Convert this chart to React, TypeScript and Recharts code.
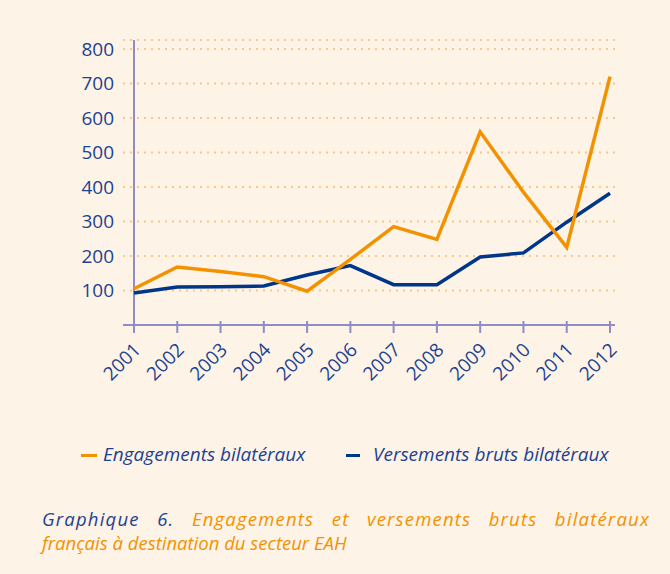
import { LineChart, Line, XAxis, YAxis, CartesianGrid, ReferenceLine } from 'recharts';

const years = ['2001', '2002', '2003', '2004', '2005', '2006', '2007', '2008', '2009', '2010', '2011', '2012'];
const engagements = [105, 168, 155, 140, 98, 190, 285, 248, 560, 385, 225, 720];
const versements = [93, 110, 111, 113, 145, 172, 117, 117, 197, 209, 298, 382];
const yTicks = [100, 200, 300, 400, 500, 600, 700, 800];

const data = years.map((year, i) => ({ year, engagements: engagements[i], versements: versements[i] }));

const BG = '#FDF3E7';
const ORANGE = '#F39200';
const BLUE = '#00368A';
const TEXT_BLUE = '#1D428F';
const AXIS = '#8F8CC6';
const GRID = '#F8C887';
const FONT = '"Open Sans", sans-serif';

const YearTick = ({ x, y, payload }: any) => (
  <g transform={`translate(${x},${y})`}>
    <line x1={0} y1={-4} x2={0} y2={8} stroke={AXIS} strokeWidth={2} />
    <text x={8} y={26} textAnchor="end" transform="rotate(-45 8 26)" fill={TEXT_BLUE} fontSize={19} fontFamily={FONT}>
      {payload.value}
    </text>
  </g>
);

export default function App() {
  return (
    <div style={{ position: 'absolute', left: 0, top: 0, width: 670, height: 574, background: BG, fontFamily: FONT, overflow: 'hidden' }}>
      <LineChart width={670} height={420} data={data} margin={{ top: 40, right: 55, left: 63, bottom: 35 }}>
        <CartesianGrid horizontal vertical={false} stroke={GRID} strokeWidth={2} strokeDasharray="2 5" />
        <XAxis
          dataKey="year"
          interval={0}
          height={60}
          padding={{ left: 11, right: 5 }}
          tickSize={0}
          tickMargin={0}
          tickLine={false}
          axisLine={{ stroke: AXIS, strokeWidth: 2 }}
          tick={<YearTick />}
        />
        <YAxis
          width={60}
          domain={[0, 826]}
          ticks={yTicks}
          interval={0}
          axisLine={false}
          tickLine={false}
          tickSize={0}
          tickMargin={9}
          tick={{ fill: TEXT_BLUE, fontSize: 19, fontFamily: FONT }}
        />
        <ReferenceLine x="2001" stroke={AXIS} strokeWidth={2} />
        <Line dataKey="versements" stroke={BLUE} strokeWidth={3.5} dot={false} isAnimationActive={false} />
        <Line dataKey="engagements" stroke={ORANGE} strokeWidth={3.5} dot={false} isAnimationActive={false} />
      </LineChart>

      <div style={{ position: 'absolute', left: 81, top: 454, width: 16, height: 3, background: ORANGE }} />
      <div style={{ position: 'absolute', left: 103, top: 441, fontStyle: 'italic', fontSize: 19, color: TEXT_BLUE, whiteSpace: 'nowrap' }}>
        Engagements bilatéraux
      </div>
      <div style={{ position: 'absolute', left: 346, top: 454, width: 14, height: 3, background: BLUE }} />
      <div style={{ position: 'absolute', left: 373, top: 441, fontStyle: 'italic', fontSize: 19, color: TEXT_BLUE, whiteSpace: 'nowrap' }}>
        Versements bruts bilatéraux
      </div>

      <div
        style={{
          position: 'absolute',
          left: 42,
          top: 507,
          width: 608,
          fontStyle: 'italic',
          fontSize: 18.5,
          lineHeight: '24px',
          color: ORANGE,
        }}
      >
        <div style={{ textAlign: 'justify', textAlignLast: 'justify', letterSpacing: 1.2 }}>
          <span style={{ color: TEXT_BLUE }}>Graphique 6.</span> Engagements et versements bruts bilatéraux
        </div>
        <div>français à destination du secteur EAH</div>
      </div>
    </div>
  );
}
